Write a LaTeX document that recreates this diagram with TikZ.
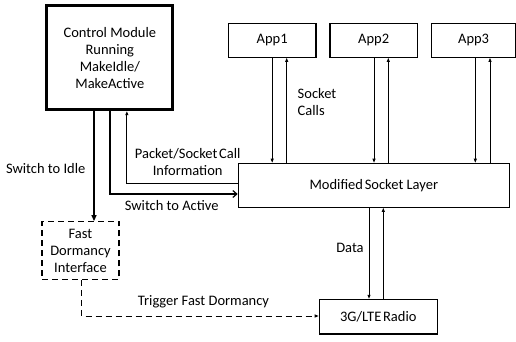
\documentclass[tikz,border=0pt]{standalone}
\usepackage{fontspec}
\setmainfont{Carlito}
\usetikzlibrary{arrows.meta}
\begin{document}
\begin{tikzpicture}[x=1pt,y=-1pt,
  box/.style={draw,line width=1.2pt,inner sep=0pt,align=center,font=\fontsize{14.5}{17}\selectfont},
  lbl/.style={inner sep=0pt,align=left,font=\fontsize{14.5}{17}\selectfont},
  thin/.style={line width=0.8pt},
  tip/.style={-{Triangle[length=4pt,width=3pt]}},
  bigtip/.style={-{Triangle[length=6pt,width=5pt]}}]
\useasboundingbox (0,0) rectangle (516,341);
\node[box,line width=3pt,minimum width=126pt,minimum height=104pt] (ctrl) at (109.85,57.7) {Control Module\\Running\\MakeIdle/\\MakeActive};
\node[box,minimum width=87.7pt,minimum height=34pt] (app1) at (272.2,40.3) {App1};
\node[box,minimum width=87.3pt,minimum height=34pt] (app2) at (373.7,40.3) {App2};
\node[box,minimum width=84pt,minimum height=34pt] (app3) at (473.6,40.3) {App3};
\node[box,minimum width=271pt,minimum height=44pt] (sock) at (373.8,185.3) {Modified\hspace{-1.5pt} Socket Layer};
\node[box,minimum width=118pt,minimum height=34.7pt] (radio) at (378.3,316.7) {3G/LTE\hspace{-1.5pt} Radio};
\node[box,dashed,dash pattern=on 6pt off 4pt,minimum width=77pt,minimum height=57.6pt] (fd) at (80.5,250.5) {Fast\\Dormancy\\Interface};
% app arrows
\draw[thin,tip] ([xshift=0pt]app1.south) -- ([xshift=0pt]app1.south |- sock.north);
\draw[thin,tip] ([xshift=14.5pt]app1.south |- sock.north) -- ([xshift=14.5pt]app1.south);
\draw[thin,tip] ([xshift=0.3pt]app2.south) -- ([xshift=0.3pt]app2.south |- sock.north);
\draw[thin,tip] ([xshift=14.6pt]app2.south |- sock.north) -- ([xshift=14.6pt]app2.south);
\draw[thin,tip] ([xshift=1.7pt]app3.south) -- ([xshift=1.7pt]app3.south |- sock.north);
\draw[thin,tip] ([xshift=16.4pt]app3.south |- sock.north) -- ([xshift=16.4pt]app3.south);
\node[lbl,anchor=west] (sc) at (297.5,102) {Socket\\Calls};
% radio
\draw[thin,tip] ([xshift=-9.3pt]radio.north |- sock.south) -- ([xshift=-9.3pt]radio.north);
\draw[thin,tip] ([xshift=5pt]radio.north) -- ([xshift=5pt]radio.north |- sock.south);
\node[lbl] (data) at (350,248) {Data};
% control lines
\draw[line width=1.2pt,bigtip] ([xshift=-15.85pt]ctrl.south) -- ([xshift=-15.85pt]ctrl.south |- fd.north);
\node[lbl] (idle) at (45.7,169) {Switch to Idle};
\coordinate (acorner) at ([xshift=0.15pt,yshift=-84pt]ctrl.south);
\draw[line width=1.2pt,-{Straight Barb[length=4pt,width=7pt]}] ([xshift=0.15pt]ctrl.south) -- (acorner |- 0,194) -- (sock.west |- 0,194);
\node[lbl] (act) at (171.7,205.7) {Switch to Active};
\draw[line width=1pt,tip] (sock.west |- 0,183.3) -- ([xshift=17pt]ctrl.south |- 0,183.3) -- ([xshift=17pt]ctrl.south);
\node[lbl,align=center] (pkt) at (187.7,162.5) {Packet/Socket\hspace{-1.5pt} Call\\Information};
% dashed trigger
\draw[line width=1pt,dash pattern=on 6pt off 4pt,tip] ([xshift=1.2pt]fd.south) -- ([xshift=1.2pt]fd.south |- 0,316) -- (radio.west |- 0,316);
\node[lbl] (trig) at (203.5,301.7) {Trigger Fast Dormancy};
\end{tikzpicture}
\end{document}
